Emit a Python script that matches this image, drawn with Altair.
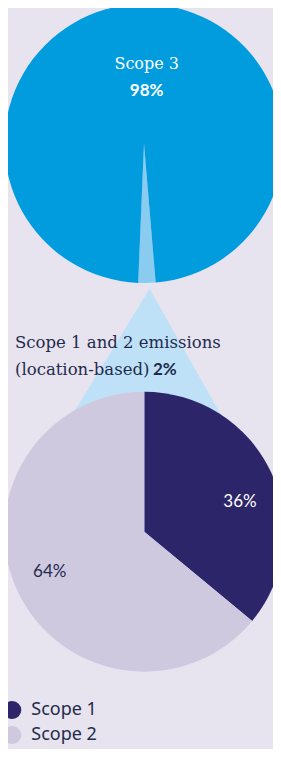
import math
import altair as alt
import pandas as pd

# ---- data ----
top_categories = ["Scope 1 and 2 emissions", "Scope 3"]
top_values = [2, 98]
top_order = [0, 1]

bottom_categories = ["Scope 1", "Scope 2"]
bottom_values = [36, 64]
bottom_order = [0, 1]

label_scope3 = "Scope 3"
label_scope3_pct = "98%"
label_s12_line1 = "Scope 1 and 2 emissions"
label_s12_line2 = "(location-based)"
label_s12_pct = "2%"
bottom_labels = ["36%", "64%"]

# ---- styles ----
BG = "#E7E3EF"
BLUE = "#009CDE"
LIGHT_BLUE = "#8ACBF0"
TRI = "#BEE1F7"
DARK = "#2D256A"
LAV = "#CFC9E0"
NAVY = "#1F2B4D"

top_df = pd.DataFrame({"cat": top_categories, "val": top_values, "ord": top_order})
bot_df = pd.DataFrame({"cat": bottom_categories, "val": bottom_values, "ord": bottom_order})

start = math.radians(175.2)
TOP_X, TOP_Y, TOP_R = 136, 135.5, 139.5
BOT_X, BOT_Y, BOT_R = 136.3, 523.7, 140

# connector wedge (the zoom triangle)
tri = alt.Chart(pd.DataFrame({"a": [1]})).mark_arc(
    theta=math.radians(150.5), theta2=math.radians(211.5), radius=265, color=TRI
).encode(x=alt.value(141.6), y=alt.value(280.7))

top_pie = alt.Chart(top_df).mark_arc(radius=TOP_R).encode(
    theta=alt.Theta("val:Q", stack=True, scale=alt.Scale(range=[start, start + 2 * math.pi])),
    order=alt.Order("ord:Q"),
    color=alt.Color("cat:N", scale=alt.Scale(domain=top_categories, range=[LIGHT_BLUE, BLUE]), legend=None),
    x=alt.value(TOP_X),
    y=alt.value(TOP_Y),
)

bot_pie = alt.Chart(bot_df).mark_arc(radius=BOT_R).encode(
    theta=alt.Theta("val:Q", stack=True, scale=alt.Scale(range=[0, 2 * math.pi])),
    order=alt.Order("ord:Q"),
    color=alt.Color(
        "cat:N",
        scale=alt.Scale(domain=bottom_categories, range=[DARK, LAV]),
        legend=alt.Legend(
            title=None,
            orient="none",
            legendX=-4.7,
            legendY=693,
            symbolType="circle",
            symbolSize=324,
            symbolStrokeWidth=0,
            labelFont="Noto Sans",
            labelFontSize=18,
            labelColor=NAVY,
            labelOffset=10,
            rowPadding=7,
            padding=0,
        ),
    ),
    x=alt.value(BOT_X),
    y=alt.value(BOT_Y),
)

def txt(text, x, y, font, size, color, weight="normal", align="center"):
    return alt.Chart(pd.DataFrame({"t": [text]})).mark_text(
        font=font, fontSize=size, color=color, fontWeight=weight, align=align, baseline="alphabetic"
    ).encode(text="t:N", x=alt.value(x), y=alt.value(y))

texts = [
    txt(label_scope3, 138.7, 61, "DejaVu Serif", 16, "white"),
    txt(label_scope3_pct, 138.7, 87.7, "Lato", 17, "white", "bold"),
    txt(label_s12_line1, 7, 340, "DejaVu Serif", 16.5, NAVY, align="left"),
    txt(label_s12_line2, 7, 367, "DejaVu Serif", 16.5, NAVY, align="left"),
    txt(label_s12_pct, 145, 367, "Lato", 17, NAVY, "bold", align="left"),
    txt(bottom_labels[0], 232, 499.3, "Lato", 17, "white"),
    txt(bottom_labels[1], 41.7, 568.7, "Lato", 17, NAVY),
]

chart = alt.layer(tri, top_pie, bot_pie, *texts).resolve_scale(
    color="independent", theta="independent"
).properties(
    width=265, height=741, padding=0, autosize=alt.AutoSizeParams(type="none"), background=BG
).configure_view(stroke=None)

chart.save("out.html", embed_options={"renderer": "svg", "actions": False})
